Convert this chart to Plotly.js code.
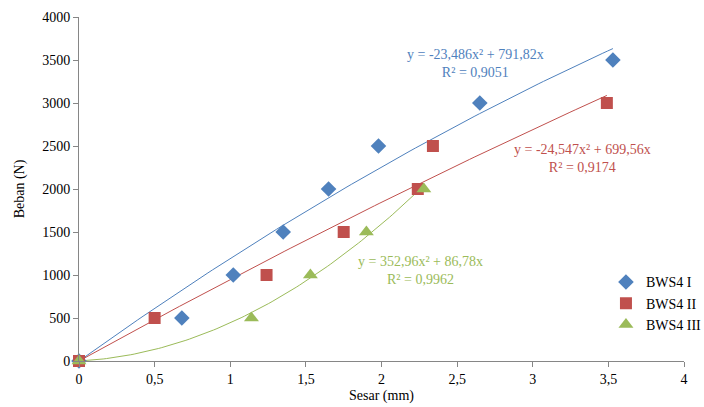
<!DOCTYPE html>
<html>
<head>
<meta charset="utf-8">
<script src="https://cdn.plot.ly/plotly-3.0.1.min.js"></script>
<style>html,body{margin:0;padding:0;background:#fff;}#chart{width:704px;height:407px;}</style>
</head>
<body>
<div id="chart"></div>
<script>
// Data
const seriesNames = ['BWS4 I', 'BWS4 II', 'BWS4 III'];
const x1 = [0, 0.68, 1.02, 1.35, 1.65, 1.98, 2.65, 3.53];
const y1 = [0, 500, 1000, 1500, 2000, 2500, 3000, 3500];
const x2 = [0, 0.50, 1.24, 1.75, 2.24, 2.34, 3.49];
const y2 = [0, 500, 1000, 1500, 2000, 2500, 3000];
const x3 = [0, 1.14, 1.53, 1.90, 2.28];
const y3 = [0, 500, 1000, 1500, 2000];
const eqTexts = [
  'y = -23,486x² + 791,82x<br>R² = 0,9051',
  'y = -24,547x² + 699,56x<br>R² = 0,9174',
  'y = 352,96x² + 86,78x<br>R² = 0,9962'
];
const colors = ['#4F81BD', '#C0504D', '#9BBB59'];
const symbols = ['diamond', 'square', 'triangle-up'];

// Polynomial (order 2, zero intercept) least-squares trendline, as in the spreadsheet
function fitCurve(xs, ys) {
  let s2 = 0, s3 = 0, s4 = 0, sxy = 0, sx2y = 0;
  for (let i = 0; i < xs.length; i++) {
    const x = xs[i], y = ys[i];
    s2 += x * x; s3 += x * x * x; s4 += x * x * x * x;
    sxy += x * y; sx2y += x * x * y;
  }
  const det = s2 * s4 - s3 * s3;
  const b = (sxy * s4 - s3 * sx2y) / det;
  const a = (s2 * sx2y - s3 * sxy) / det;
  const xmax = Math.max(...xs);
  const fx = [], fy = [];
  const n = 100;
  for (let i = 0; i <= n; i++) {
    const x = xmax * i / n;
    fx.push(x); fy.push(a * x * x + b * x);
  }
  return {fx, fy};
}

const xs = [x1, x2, x3], ys = [y1, y2, y3];
const traces = [];
for (let k = 0; k < 3; k++) {
  const f = fitCurve(xs[k], ys[k]);
  traces.push({x: f.fx, y: f.fy, mode: 'lines', type: 'scatter', showlegend: false,
    hoverinfo: 'skip', line: {color: colors[k], width: 1}});
}
for (let k = 0; k < 3; k++) {
  traces.push({x: xs[k], y: ys[k], mode: 'markers', type: 'scatter', name: seriesNames[k],
    cliponaxis: false,
    marker: {color: colors[k], symbol: symbols[k], size: k === 2 ? 13 : 12}});
}

const annPos = [[2.62, 3460], [3.33, 2360], [2.255, 1058]];
const annotations = eqTexts.map((t, k) => ({
  x: annPos[k][0], y: annPos[k][1], xref: 'x', yref: 'y', text: t, showarrow: false,
  align: 'center', font: {family: 'Liberation Serif', size: 14, color: colors[k]}
}));

const layout = {
  width: 704, height: 407,
  margin: {l: 79, r: 20, t: 17, b: 46, autoexpand: false},
  paper_bgcolor: '#fff', plot_bgcolor: '#fff',
  separators: ', ',
  font: {family: 'Liberation Serif', size: 14, color: '#000'},
  xaxis: {range: [0, 4], dtick: 0.5, tick0: 0, showgrid: false, zeroline: false,
    showline: true, linecolor: '#868686', linewidth: 1, ticks: 'outside', ticklen: 5,
    tickcolor: '#868686', tickfont: {family: 'Liberation Serif', size: 14},
    title: {text: 'Sesar (mm)', font: {family: 'Liberation Serif', size: 14}, standoff: 4}},
  yaxis: {range: [0, 4000], dtick: 500, tick0: 0, showgrid: false, zeroline: false,
    showline: true, linecolor: '#868686', linewidth: 1, ticks: 'outside', ticklen: 5,
    tickcolor: '#868686', tickfont: {family: 'Liberation Serif', size: 14},
    title: {text: 'Beban (N)', font: {family: 'Liberation Serif', size: 14}, standoff: 14}},
  legend: {x: 0.871, y: 0.275, xanchor: 'left', yanchor: 'top', bgcolor: 'rgba(0,0,0,0)',
    font: {family: 'Liberation Serif', size: 14}, itemwidth: 30},
  annotations: annotations,
  showlegend: true
};

Plotly.newPlot('chart', traces, layout, {displayModeBar: false, staticPlot: true});
</script>
</body>
</html>
